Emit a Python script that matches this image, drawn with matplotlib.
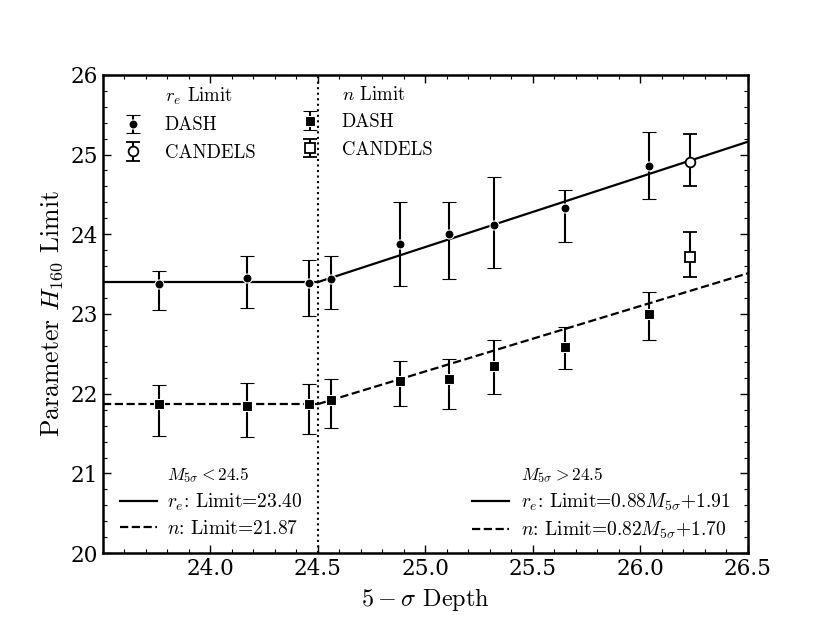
import numpy as np
import matplotlib
matplotlib.use("Agg")
import matplotlib.pyplot as plt
from matplotlib.lines import Line2D
from matplotlib.ticker import MultipleLocator, FixedLocator

plt.rcParams['mathtext.fontset'] = 'cm'
plt.rcParams['font.family'] = 'DejaVu Serif'
plt.rcParams['axes.unicode_minus'] = False

# DASH points (depth, value, lower bound, upper bound)
depth_dash = [23.76, 24.17, 24.46, 24.56, 24.88, 25.11, 25.32, 25.65, 26.04]
re_dash = [23.37, 23.45, 23.39, 23.44, 23.88, 24.00, 24.12, 24.33, 24.86]
re_dash_lo = [23.05, 23.08, 22.98, 23.06, 23.35, 23.44, 23.58, 23.90, 24.44]
re_dash_hi = [23.54, 23.73, 23.68, 23.73, 24.41, 24.40, 24.72, 24.55, 25.28]
n_dash = [21.87, 21.85, 21.87, 21.92, 22.16, 22.18, 22.35, 22.59, 23.00]
n_dash_lo = [21.47, 21.46, 21.50, 21.57, 21.84, 21.81, 22.00, 22.31, 22.68]
n_dash_hi = [22.11, 22.14, 22.12, 22.19, 22.41, 22.44, 22.68, 22.84, 23.28]

# CANDELS points
depth_cand = [26.23]
re_cand = [24.90]
re_cand_lo = [24.61]
re_cand_hi = [25.26]
n_cand = [23.71]
n_cand_lo = [23.46]
n_cand_hi = [24.03]

# fitted limits
break_depth = 24.5
re_flat, re_slope = 23.40, 0.88
n_flat, n_slope = 21.87, 0.82
x_min, x_max = 23.5, 26.5
x_ticks = [24.0, 24.5, 25.0, 25.5, 26.0, 26.5]


def yerr(vals, lo, hi):
    vals, lo, hi = np.array(vals), np.array(lo), np.array(hi)
    return [vals - lo, hi - vals]


fig = plt.figure(figsize=(8.3, 6.23), dpi=100)
ax = fig.add_axes([0.124, 0.112, 0.777, 0.768])

xl = np.array([x_min, break_depth])
xr = np.array([break_depth, x_max])
ax.plot(xl, [re_flat, re_flat], 'k-', lw=1.6)
ax.plot(xr, re_flat + re_slope * (xr - break_depth), 'k-', lw=1.6)
ax.plot(xl, [n_flat, n_flat], 'k--', lw=1.6)
ax.plot(xr, n_flat + n_slope * (xr - break_depth), 'k--', lw=1.6)
ax.axvline(break_depth, color='k', ls=':', lw=1.5)

ekw = dict(ecolor='k', elinewidth=1.5, capsize=5, capthick=1.5, ls='none')
h_re_dash = ax.errorbar(depth_dash, re_dash, yerr=yerr(re_dash, re_dash_lo, re_dash_hi),
                        fmt='o', mfc='k', mec='w', mew=0.8, ms=6.5, **ekw)
h_re_cand = ax.errorbar(depth_cand, re_cand, yerr=yerr(re_cand, re_cand_lo, re_cand_hi),
                        fmt='o', mfc='w', mec='k', mew=1.3, ms=7, **ekw)
h_n_dash = ax.errorbar(depth_dash, n_dash, yerr=yerr(n_dash, n_dash_lo, n_dash_hi),
                       fmt='s', mfc='k', mec='w', mew=0.8, ms=6.5, **ekw)
h_n_cand = ax.errorbar(depth_cand, n_cand, yerr=yerr(n_cand, n_cand_lo, n_cand_hi),
                       fmt='s', mfc='w', mec='k', mew=1.3, ms=7, **ekw)

ax.set_xlim(x_min, x_max)
ax.set_ylim(20, 26)
ax.xaxis.set_major_locator(FixedLocator(x_ticks))
ax.xaxis.set_minor_locator(MultipleLocator(0.1))
ax.yaxis.set_major_locator(MultipleLocator(1))
ax.yaxis.set_minor_locator(MultipleLocator(0.2))
ax.xaxis.set_major_formatter(plt.FormatStrFormatter('%.1f'))
ax.tick_params(which='both', direction='in', top=True, right=True, labelsize=15.5)
ax.tick_params(which='major', length=6, width=1)
ax.tick_params(which='minor', length=3, width=0.8)
for s in ax.spines.values():
    s.set_linewidth(1.8)

ax.set_xlabel(r'$5-\sigma$ Depth', family='cmr10', fontsize=17.5)
ax.set_ylabel(r'Parameter $H_{160}$ Limit', family='cmr10', fontsize=18.5)

blank = Line2D([], [], ls='none')
top_prop = {'family': 'cmr10', 'size': 13.5}
leg1 = ax.legend([blank, h_re_dash, h_re_cand], [r'$r_e$ Limit', 'DASH', 'CANDELS'],
                 loc='upper left', frameon=False, prop=top_prop, handlelength=2,
                 handletextpad=0.7, borderaxespad=0.2)
ax.add_artist(leg1)
leg2 = ax.legend([blank, h_n_dash, h_n_cand], [r'$n$ Limit', 'DASH', 'CANDELS'],
                 loc='upper left', bbox_to_anchor=(0.274, 1.0), frameon=False,
                 prop=top_prop, handlelength=2, handletextpad=0.7, borderaxespad=0.2)
ax.add_artist(leg2)

bot_prop = {'family': 'cmr10', 'size': 14}
solid = Line2D([], [], color='k', ls='-', lw=1.6)
dashed = Line2D([], [], color='k', ls='--', lw=1.6)
leg3 = ax.legend([blank, solid, dashed],
                 [r'$M_{5\sigma}<24.5$', r'$r_e$: Limit=23.40', r'$n$: Limit=21.87'],
                 loc='lower left', bbox_to_anchor=(0.0, -0.004), frameon=False,
                 prop=bot_prop, handlelength=1.9, handletextpad=0.5, labelspacing=0.35)
leg3.get_texts()[0].set_fontsize(12.5)
ax.add_artist(leg3)
leg4 = ax.legend([blank, solid, dashed],
                 [r'$M_{5\sigma}>24.5$', r'$r_e$: Limit=0.88$M_{5\sigma}$+1.91',
                  r'$n$: Limit=0.82$M_{5\sigma}$+1.70'],
                 loc='lower right', bbox_to_anchor=(1.0, -0.012), frameon=False,
                 prop=bot_prop, handlelength=1.9, handletextpad=0.6, labelspacing=0.35)
leg4.get_texts()[0].set_fontsize(12.5)

fig.savefig('out.png', dpi=100)
